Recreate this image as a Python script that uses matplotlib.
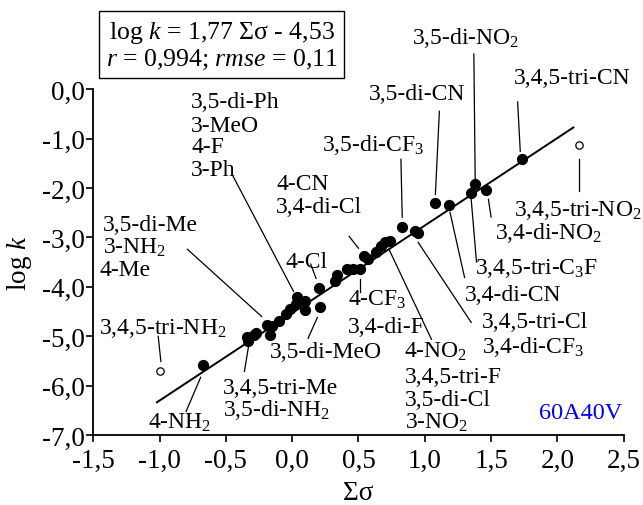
import numpy as np
import matplotlib
matplotlib.use("Agg")
import matplotlib.pyplot as plt
from matplotlib.ticker import FuncFormatter, MultipleLocator

plt.rcParams['font.family'] = ['Liberation Serif', 'DejaVu Serif']
plt.rcParams['mathtext.fontset'] = 'custom'
plt.rcParams['mathtext.rm'] = 'Liberation Serif'
plt.rcParams['mathtext.it'] = 'Liberation Serif:italic'

# filled points (sum sigma, log k)
sigma = [-0.67, -0.34, -0.33, -0.29, -0.27, -0.19, -0.15, -0.17, -0.10, -0.05,
         -0.02, 0.04, 0.03, 0.10, 0.10, 0.21, 0.20, 0.32, 0.34, 0.41,
         0.46, 0.51, 0.54, 0.57, 0.63, 0.67, 0.70, 0.74, 0.83, 0.93,
         0.95, 1.08, 1.18, 1.35, 1.38, 1.46, 1.73]
logk = [-5.59, -5.02, -5.10, -4.98, -4.94, -4.78, -4.80, -4.98, -4.70, -4.55,
        -4.45, -4.21, -4.35, -4.29, -4.47, -4.41, -4.03, -3.89, -3.77, -3.64,
        -3.64, -3.64, -3.38, -3.44, -3.30, -3.18, -3.10, -3.08, -2.79, -2.87,
        -2.92, -2.31, -2.35, -2.11, -1.92, -2.04, -1.42]

# outliers (open circles)
sigma_out = [-1.00, 2.16]
logk_out = [-5.71, -1.13]

# regression
slope, intercept = 1.77, -4.53
fit_x = [-1.02, 2.12]

# labels: text, x, y, horizontal alignment
labels = [
    ("3,5-di-NO$_2$", 1.31, 1.05, 'center'),
    ("3,4,5-tri-CN", 2.11, 0.24, 'center'),
    ("3,5-di-CN", 0.94, -0.08, 'center'),
    ("3,5-di-CF$_3$", 0.61, -1.11, 'center'),
    ("3,5-di-Ph", -0.76, -0.26, 'left'),
    ("3-MeO", -0.76, -0.73, 'left'),
    ("4-F", -0.76, -1.17, 'left'),
    ("3-Ph", -0.76, -1.62, 'left'),
    ("4-CN", -0.12, -1.92, 'left'),
    ("3,4-di-Cl", -0.12, -2.37, 'left'),
    ("3,5-di-Me", -1.43, -2.73, 'left'),
    ("3-NH$_2$", -1.43, -3.20, 'left'),
    ("4-Me", -1.45, -3.64, 'left'),
    ("4-Cl", -0.05, -3.48, 'left'),
    ("3,4,5-tri-NH$_2$", -1.46, -4.82, 'left'),
    ("4-CF$_3$", 0.42, -4.25, 'left'),
    ("3,4-di-F", 0.42, -4.80, 'left'),
    ("3,5-di-MeO", -0.17, -5.30, 'left'),
    ("4-NO$_2$", 0.84, -5.30, 'left'),
    ("3,4,5-tri-F", 0.85, -5.81, 'left'),
    ("3,5-di-Cl", 0.85, -6.28, 'left'),
    ("3-NO$_2$", 0.85, -6.74, 'left'),
    ("3,4,5-tri-Me", -0.52, -6.03, 'left'),
    ("3,5-di-NH$_2$", -0.52, -6.48, 'left'),
    ("4-NH$_2$", -1.09, -6.74, 'left'),
    ("3,4,5-tri-NO$_2$", 1.67, -2.43, 'left'),
    ("3,4-di-NO$_2$", 1.53, -2.89, 'left'),
    ("3,4,5-tri-C$_3$F", 1.38, -3.60, 'left'),
    ("3,4-di-CN", 1.30, -4.15, 'left'),
    ("3,4,5-tri-Cl", 1.43, -4.70, 'left'),
    ("3,4-di-CF$_3$", 1.43, -5.20, 'left'),
]

# leader lines: x0, y0, x1, y1
leaders = [
    (1.37, 0.71, 1.38, -1.82),
    (1.70, -0.26, 1.72, -1.26),
    (1.11, -0.45, 1.08, -2.13),
    (0.82, -1.42, 0.83, -2.59),
    (-0.45, -1.74, 0.01, -4.09),
    (0.43, -2.98, 0.50, -3.22),
    (-0.79, -3.24, -0.23, -4.60),
    (0.14, -3.54, 0.18, -3.83),
    (-1.01, -5.00, -0.99, -5.51),
    (0.51, -3.85, 0.51, -4.11),
    (0.19, -4.62, 0.12, -5.04),
    (0.73, -3.24, 1.05, -5.06),
    (-0.33, -5.22, -0.36, -5.71),
    (-0.69, -5.83, -0.80, -6.52),
    (2.16, -1.42, 2.16, -2.06),
    (1.48, -2.23, 1.50, -2.59),
    (1.35, -2.23, 1.39, -3.50),
    (1.19, -2.49, 1.30, -3.81),
    (0.95, -3.10, 1.35, -4.72),
]

fig = plt.figure(figsize=(6.43, 5.06), dpi=100)
ax = fig.add_axes([0.145, 0.138, 0.825, 0.684])

fx = np.array(fit_x)
ax.plot(fx, slope * fx + intercept, color='black', lw=1.4, zorder=2)
ax.scatter(sigma, logk, s=50, color='black', zorder=3)
ax.scatter(sigma_out, logk_out, s=28, facecolor='white', edgecolor='black',
           linewidth=0.9, zorder=3)

for x0, y0, x1, y1 in leaders:
    ax.plot([x0, x1], [y0, y1], color='black', lw=0.9, clip_on=False, zorder=1)

for txt, x, y, ha in labels:
    ax.text(x, y, txt, fontsize=17, ha=ha, va='center', clip_on=False)

ax.text(2.49, -6.54, "60A40V", color='#0000EE', fontsize=17.5, ha='right', va='center')

ax.set_xlim(-1.5, 2.5)
ax.set_ylim(-7, 0)
ax.xaxis.set_major_locator(MultipleLocator(0.5))
ax.yaxis.set_major_locator(MultipleLocator(1.0))
fmt = FuncFormatter(lambda v, p: ("%.1f" % v).replace('.', ',').replace('\u2212', '-'))
ax.xaxis.set_major_formatter(fmt)
ax.yaxis.set_major_formatter(fmt)
ax.tick_params(direction='out', length=5, width=1.2, labelsize=19.5)
ax.tick_params(axis='x', pad=4)
ax.tick_params(axis='y', pad=1)
for s in ['top', 'right']:
    ax.spines[s].set_visible(False)
for s in ['left', 'bottom']:
    ax.spines[s].set_linewidth(1.3)

ax.set_xlabel("Σσ", fontsize=19.5, labelpad=5)
ax.set_ylabel("log $k$", fontsize=19.5, labelpad=6)

fig.text(0.345, 0.909, "log $k$ = 1,77 Σσ - 4,53\n$r$ = 0,994; $rmse$ = 0,11",
         fontsize=18.5, ha='center', va='center', linespacing=1.15,
         bbox=dict(boxstyle='square,pad=0.25', facecolor='white',
                   edgecolor='black', linewidth=1.0))

fig.savefig("out.png", dpi=100)
